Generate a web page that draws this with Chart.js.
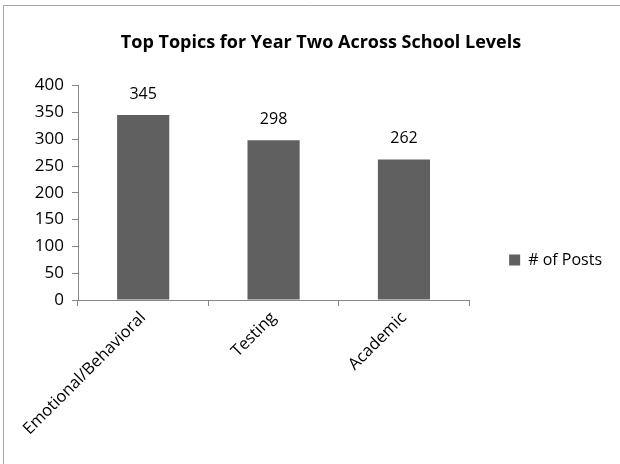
<!DOCTYPE html>
<html>
<head>
<meta charset="utf-8">
<script src="https://cdn.jsdelivr.net/npm/chart.js@4.4.1/dist/chart.umd.min.js"></script>
<style>
  html, body { margin: 0; padding: 0; background: #fff; }
  #wrap { width: 620px; height: 464px; position: relative; }
</style>
</head>
<body>
<div id="wrap"><canvas id="c" width="620" height="464"></canvas></div>
<script>
const categories = ["Emotional/Behavioral", "Testing", "Academic"];
const postCounts = [345, 298, 262];
const seriesName = "# of Posts";
const chartTitle = "Top Topics for Year Two Across School Levels";
const yTicks = [0, 50, 100, 150, 200, 250, 300, 350, 400];

const FONT = "'Open Sans', 'Liberation Sans', sans-serif";
const BAR = "#606060";

const frame = {
  id: 'frame',
  beforeDraw(chart) {
    const ctx = chart.ctx;
    ctx.save();
    ctx.fillStyle = '#fff';
    ctx.fillRect(0, 0, chart.width, chart.height);
    ctx.strokeStyle = '#a6a6a6';
    ctx.lineWidth = 1;
    ctx.beginPath();
    ctx.moveTo(3.5, 464);
    ctx.lineTo(3.5, 5.5);
    ctx.lineTo(620, 5.5);
    ctx.stroke();
    ctx.restore();
  }
};

const dataLabels = {
  id: 'dataLabels',
  afterDatasetsDraw(chart) {
    const ctx = chart.ctx;
    ctx.save();
    ctx.font = "16px " + FONT;
    ctx.fillStyle = '#000';
    ctx.textAlign = 'center';
    ctx.textBaseline = 'middle';
    chart.getDatasetMeta(0).data.forEach((bar, i) => {
      ctx.fillText(String(chart.data.datasets[0].data[i]), bar.x, bar.y - 21);
    });
    ctx.restore();
  }
};

new Chart(document.getElementById('c'), {
  type: 'bar',
  data: {
    labels: categories,
    datasets: [{
      label: seriesName,
      data: postCounts,
      backgroundColor: BAR,
      borderWidth: 0,
      categoryPercentage: 1.0,
      barPercentage: 0.4
    }]
  },
  options: {
    responsive: false,
    animation: false,
    devicePixelRatio: 1,
    layout: { padding: { left: 30, right: 8, top: 8, bottom: 14 } },
    plugins: {
      title: {
        display: true,
        text: chartTitle,
        color: '#000',
        font: { family: FONT, size: 18, weight: 'bold' },
        padding: { top: 24, bottom: 32 }
      },
      legend: {
        position: 'right',
        align: 'center',
        title: {
          display: true,
          text: ' ',
          font: { family: FONT, size: 10 },
          padding: { top: 50, bottom: 0 }
        },
        labels: {
          color: '#000',
          font: { family: FONT, size: 16 },
          boxWidth: 11,
          boxHeight: 11,
          padding: 40
        }
      },
      tooltip: { enabled: false }
    },
    scales: {
      x: {
        afterFit(scale) { scale.height = 150; },
        grid: {
          display: true,
          drawOnChartArea: false,
          offset: true,
          tickLength: 6,
          color: '#868686'
        },
        border: { display: true, color: '#868686', width: 1 },
        ticks: {
          color: '#000',
          font: { family: FONT, size: 16.5 },
          maxRotation: 45,
          minRotation: 45,
          padding: 2
        }
      },
      y: {
        min: 0,
        max: 400,
        afterFit(scale) { scale.width = 48; },
        afterBuildTicks(scale) { scale.ticks = yTicks.map(v => ({ value: v })); },
        grid: {
          display: true,
          drawOnChartArea: false,
          tickLength: 6,
          color: '#868686'
        },
        border: { display: true, color: '#868686', width: 1 },
        ticks: {
          color: '#000',
          font: { family: FONT, size: 17 },
          padding: 8
        }
      }
    }
  },
  plugins: [frame, dataLabels]
});
</script>
</body>
</html>
